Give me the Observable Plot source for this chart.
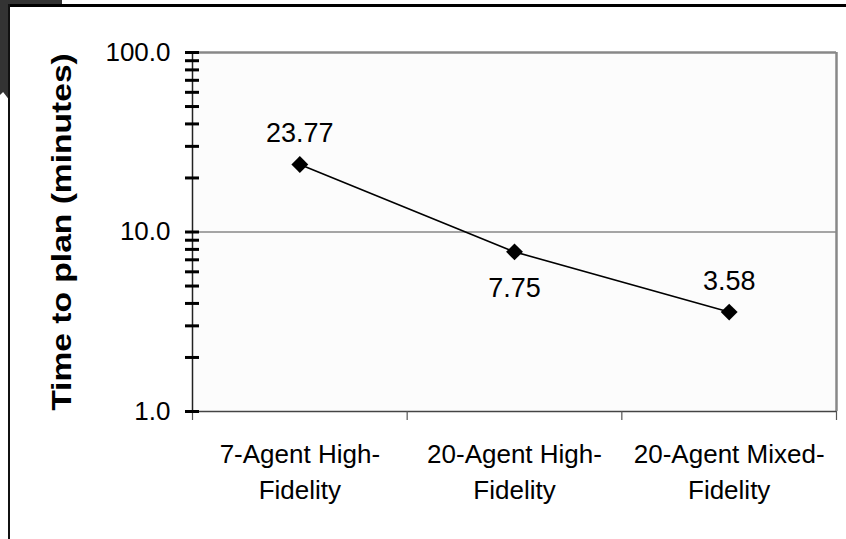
<!DOCTYPE html>
<html>
<head>
<meta charset="utf-8">
<script src="https://cdn.jsdelivr.net/npm/d3@7"></script>
<script src="https://cdn.jsdelivr.net/npm/@observablehq/plot@0.6"></script>
<style>
  html, body { margin: 0; padding: 0; background: #fff; }
  #wrap { position: relative; width: 846px; height: 539px; overflow: hidden; font-family: "Liberation Sans", Arial, sans-serif; }
  #wrap svg { position: absolute; left: 0; top: 0; }
  .corner { position: absolute; left: 0; top: 0; width: 62px; height: 100px; background: #333;
    clip-path: polygon(0 0, 100% 0, 100% 4%, 15% 4%, 15% 100%, 5% 92%, 0 95%); }
  .topline { position: absolute; left: 8px; top: 4px; width: 838px; height: 3px; background: #000; }
  .leftline { position: absolute; left: 8px; top: 4px; width: 2px; height: 535px; background: #111; }
</style>
</head>
<body>
<div id="wrap"></div>
<script>
const categories = ["7-Agent High-\nFidelity", "20-Agent High-\nFidelity", "20-Agent Mixed-\nFidelity"];
const times = [23.77, 7.75, 3.58];
const labels = ["23.77", "7.75", "3.58"];
const yMajorTicks = [1, 10, 100];
const yMinorTicks = [1, 2, 3, 4, 5, 6, 7, 8, 9, 10, 20, 30, 40, 50, 60, 70, 80, 90, 100];
const yTitle = "Time to plan (minutes)";

const data = categories.map((c, i) => ({i, pos: i + 0.5, cat: c, t: times[i], label: labels[i]}));
const boundaries = d3.range(categories.length + 1);

const chart = Plot.plot({
  width: 846,
  height: 539,
  marginLeft: 192,
  marginRight: 10,
  marginTop: 52,
  marginBottom: 128,
  style: {fontFamily: "'Liberation Sans', Arial, sans-serif", background: "transparent", color: "#000"},
  x: {type: "linear", domain: [0, categories.length], axis: null},
  y: {type: "log", domain: [1, 100], axis: null},
  marks: [
    Plot.frame({fill: "#fcfcfc", stroke: "none"}),
    Plot.ruleY([10], {stroke: "#888", strokeWidth: 1.5}),
    Plot.ruleY([100], {stroke: "#888", strokeWidth: 2.5}),
    Plot.ruleX([categories.length], {stroke: "#888", strokeWidth: 2.5}),
    Plot.ruleY([1], {stroke: "#444", strokeWidth: 1.5}),
    Plot.ruleX([0], {stroke: "#222", strokeWidth: 1.5}),
    // x ticks at band boundaries
    Plot.axisX({ticks: boundaries, tickSize: 9, tickFormat: () => "", label: null, stroke: "#555", strokeWidth: 1.2}),
    // x labels
    Plot.axisX({ticks: data.map(d => d.pos), tickSize: 0, tickPadding: 27, label: null,
      tickFormat: (d) => categories[Math.floor(d)], fontSize: 26, lineHeight: 1.35, fill: "#000"}),
    // y crossing ticks
    Plot.axisY({ticks: yMinorTicks, tickSize: 14, dx: 7, tickFormat: () => "", label: null, stroke: "#000", strokeWidth: 3}),
    // y labels
    Plot.axisY({ticks: yMajorTicks, tickSize: 0, tickPadding: 22, label: null, tickFormat: d => d.toFixed(1), fontSize: 26, fill: "#000"}),
    Plot.text([yTitle], {frameAnchor: "left", textAnchor: "middle", lineAnchor: "middle", dx: -130, rotate: -90, fontSize: 28, fontWeight: "bold", fill: "#000"}),
    Plot.line(data, {x: "pos", y: "t", stroke: "#000", strokeWidth: 1.6}),
    Plot.dot(data, {x: "pos", y: "t", symbol: "diamond2", r: 7.6, fill: "#000", stroke: "none"}),
    Plot.text(data.filter(d => d.i !== 1), {x: "pos", y: "t", text: "label", dy: -31, fontSize: 27, fill: "#000"}),
    Plot.text(data.filter(d => d.i === 1), {x: "pos", y: "t", text: "label", dy: 36, fontSize: 27, fill: "#000"})
  ]
});

// stretch the rotated title along its length, like the reference's tall glyphs
d3.select(chart).selectAll("text")
  .filter(function() { return this.textContent === yTitle; })
  .each(function() {
    const el = this.getAttribute("transform") ? this : this.parentNode;
    const t = el.getAttribute("transform") || "";
    el.setAttribute("transform", t + " scale(1.2,1)");
  });

const wrap = document.getElementById("wrap");
wrap.appendChild(chart);
for (const cls of ["corner", "topline", "leftline"]) {
  const d = document.createElement("div");
  d.className = cls;
  wrap.appendChild(d);
}
</script>
</body>
</html>
